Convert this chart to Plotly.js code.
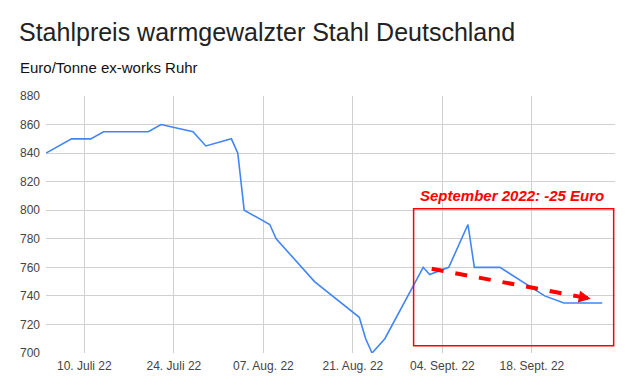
<!DOCTYPE html>
<html>
<head>
<meta charset="utf-8">
<script src="https://cdn.plot.ly/plotly-3.0.1.min.js"></script>
<style>html,body{margin:0;padding:0;background:#fff;}#chart{width:639px;height:392px;}</style>
</head>
<body>
<div id="chart"></div>
<script>
// Data
const dates = ['2022-07-04','2022-07-08','2022-07-11','2022-07-13','2022-07-20','2022-07-22','2022-07-27','2022-07-29','2022-08-02','2022-08-03','2022-08-04','2022-08-08','2022-08-09','2022-08-15','2022-08-22','2022-08-23','2022-08-24','2022-08-26','2022-09-01','2022-09-02','2022-09-05','2022-09-08','2022-09-09','2022-09-13','2022-09-20','2022-09-23','2022-09-29'];
const prices = [840,850,850,855,855,860,855,845,850,840,800,790,780,750,725,710,700,710,760,755,760,790,760,760,740,735,735];

const tickDates = ['2022-07-10','2022-07-24','2022-08-07','2022-08-21','2022-09-04','2022-09-18'];
const tickLabels = ['10. Juli 22','24. Juli 22','07. Aug. 22','21. Aug. 22','04. Sept. 22','18. Sept. 22'];
const yTicks = [700,720,740,760,780,800,820,840,860,880];

// Trend arrow (September): dashed body, then arrow head tail -> tip
const trendX = ['2022-09-02 08:00','2022-09-25 10:00'];
const trendY = [759, 739.5];
const headTip = ['2022-09-27 05:00', 738];

// Highlight box and label
const boxX = ['2022-08-30 12:00','2022-09-30 19:00'];
const boxY = [705, 801];
const noteText = 'September 2022: -25 Euro';
const noteX = '2022-09-14 20:00';
const noteY = 810.5;

const font = 'Arial, "Liberation Sans", sans-serif';

const traces = [
  {
    x: dates, y: prices, type: 'scatter', mode: 'lines',
    line: {color: '#4285F4', width: 1.6},
    hoverinfo: 'skip'
  },
  {
    x: trendX, y: trendY, type: 'scatter', mode: 'lines',
    line: {color: '#ff0000', width: 4, dash: '12px,12px'},
    hoverinfo: 'skip'
  }
];

const layout = {
  width: 639, height: 392,
  margin: {l: 46, r: 24, t: 96, b: 39},
  paper_bgcolor: '#fff', plot_bgcolor: '#fff',
  showlegend: false,
  font: {family: font, size: 12, color: '#444'},
  title: {
    text: 'Stahlpreis warmgewalzter Stahl Deutschland',
    font: {family: font, size: 25, color: '#222'},
    xref: 'container', yref: 'container',
    x: 19/639, xanchor: 'left', y: 1 - 32.5/392, yanchor: 'middle'
  },
  xaxis: {
    type: 'date',
    range: ['2022-07-04', '2022-10-01'],
    tickvals: tickDates, ticktext: tickLabels,
    showgrid: true, gridcolor: '#d0d0d0', gridwidth: 1,
    zeroline: false, showline: false, ticks: '',
    ticklabelstandoff: 4,
    tickfont: {family: font, size: 12, color: '#444'}
  },
  yaxis: {
    range: [700, 880],
    tickvals: yTicks,
    showgrid: true, gridcolor: '#d0d0d0', gridwidth: 1,
    zeroline: false, showline: false, ticks: '',
    ticklabelstandoff: 5,
    tickfont: {family: font, size: 12, color: '#444'}
  },
  shapes: [
    {type: 'rect', xref: 'x', yref: 'y', x0: boxX[0], x1: boxX[1], y0: boxY[0], y1: boxY[1],
     line: {color: '#ff0000', width: 1.5}, fillcolor: 'rgba(0,0,0,0)', layer: 'above'}
  ],
  annotations: [
    {text: 'Euro/Tonne ex-works Ruhr', xref: 'paper', yref: 'paper', x: -28/569, y: (353-68)/257,
     xanchor: 'left', yanchor: 'middle', showarrow: false,
     font: {family: font, size: 15, color: '#111'}},
    {text: '<b><i>' + noteText + '</i></b>', xref: 'x', yref: 'y', x: noteX, y: noteY,
     xanchor: 'center', yanchor: 'middle', showarrow: false,
     font: {family: font, size: 15, color: '#ff0000'}},
    {text: '', xref: 'x', yref: 'y', x: headTip[0], y: headTip[1],
     axref: 'x', ayref: 'y', ax: trendX[1], ay: trendY[1],
     showarrow: true, arrowhead: 2, arrowsize: 0.6, arrowwidth: 4, arrowcolor: '#ff0000'}
  ]
};

Plotly.newPlot('chart', traces, layout, {staticPlot: true, displayModeBar: false});
</script>
</body>
</html>
